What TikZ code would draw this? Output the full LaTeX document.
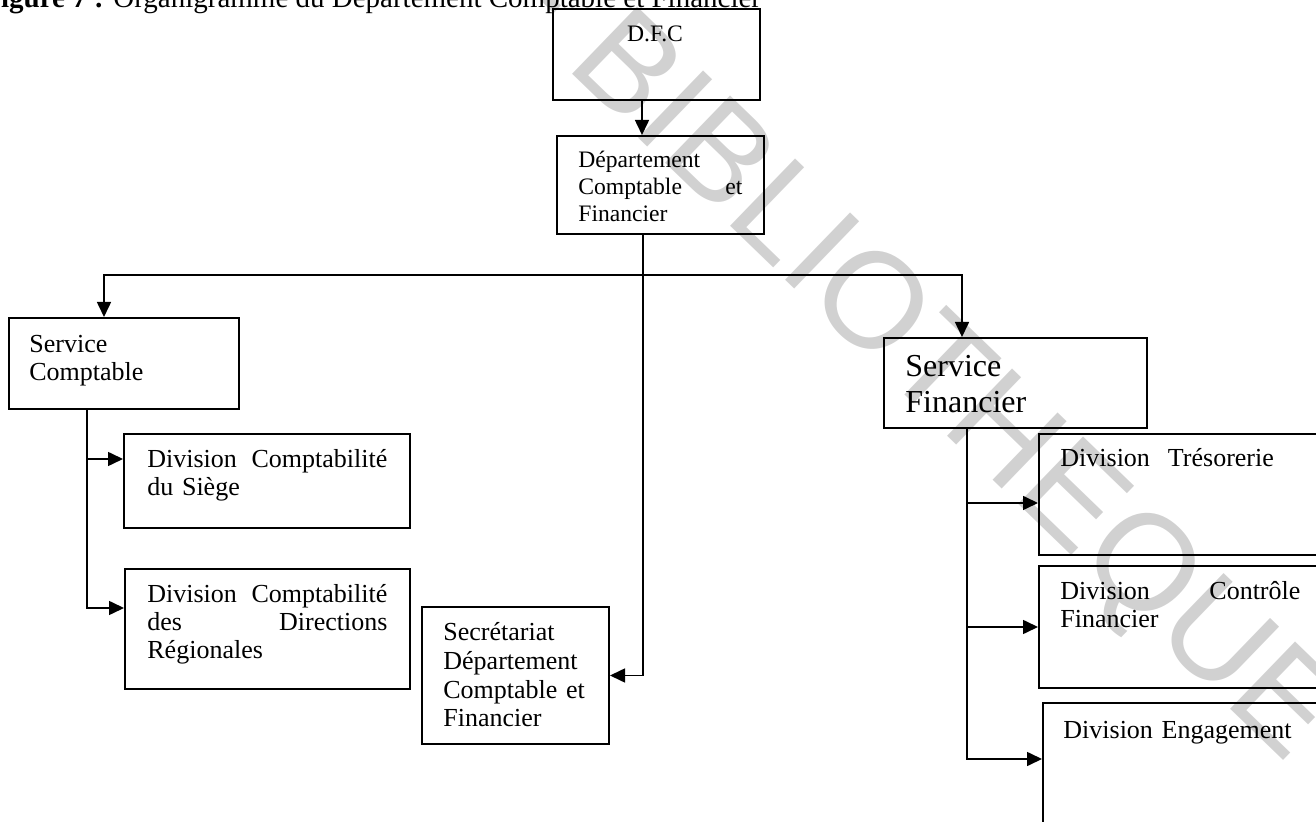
\documentclass[tikz,border=0pt]{standalone}
\usepackage{fontspec}
\setmainfont{Liberation Serif}
\newfontfamily\wmfont{Liberation Sans}
\usetikzlibrary{arrows.meta,calc}
\newcommand\jl[2]{\makebox[#1][s]{#2}}
\begin{document}
\begin{tikzpicture}[x=0.5pt,y=-0.5pt,
  box/.style={draw,line width=1pt,inner sep=0,anchor=north west},
  txt/.style={inner sep=0,anchor=base west,align=left,text width=125pt,font=\fontsize{13}{14}\selectfont},
  arr/.style={line width=0.8pt,-{Triangle[length=7.5pt,width=7pt]}},
  ln/.style={line width=0.8pt}]
\useasboundingbox (0,0) rectangle (1316,822);
\clip (0,0) rectangle (1316,822);
% watermark
\node[inner sep=0,anchor=east,rotate=-44,text=black!18,font=\wmfont\fontsize{68}{70}\selectfont] (wm) at (1312,740) {CODESRIA - BIBLIOTHEQUE};
% header
\node[inner sep=0,anchor=base west,font=\fontsize{14.5}{16}\selectfont] (title) at (-17,8) {\textbf{Figure 7 :} Organigramme du Département Comptable et Financier};
% boxes
\node[box,minimum width=103.5pt,minimum height=45.5pt] (dfc) at (552,8) {};
\node[box,minimum width=103.5pt,minimum height=49pt] (dept) at (556,135) {};
\node[box,minimum width=115pt,minimum height=45.5pt] (sc) at (8,317) {};
\node[box,minimum width=143pt,minimum height=47pt] (siege) at (123,433) {};
\node[box,minimum width=142.5pt,minimum height=60pt] (dcdr) at (124,568) {};
\node[box,minimum width=93.5pt,minimum height=68.5pt] (sec) at (421,606) {};
\node[box,minimum width=131.5pt,minimum height=45pt] (sf) at (883,337) {};
\node[box,minimum width=155pt,minimum height=60.5pt] (tres) at (1038,433) {};
\node[box,minimum width=155pt,minimum height=61pt] (ctrl) at (1038,565) {};
\node[box,minimum width=153pt,minimum height=80pt] (eng) at (1042,702) {};
% texts
\node[txt,anchor=base,align=center,text width=90pt,font=\fontsize{11.8}{13.5}\selectfont] (dfcT) at (655,42) {D.F.C};
\node[txt,text width=90pt,font=\fontsize{11.8}{13.5}\selectfont] (deptT) at (578,168) {Département\\\jl{82pt}{Comptable\hfill et}\\Financier};
\node[txt,text width=100pt] (scT) at (29,353) {Service\\Comptable};
\node[txt] (siegeT) at (147,468) {\jl{120pt}{Division\hfill Comptabilité}\\du Siège};
\node[txt] (dcdrT) at (147,603) {\jl{120pt}{Division\hfill Comptabilité}\\\jl{120pt}{des\hfill Directions}\\Régionales};
\node[txt,text width=90pt,font=\fontsize{13}{14.5}\selectfont] (secT) at (443,640) {Secrétariat\\Département\\Comptable et\\Financier};
\node[txt,font=\fontsize{16}{18}\selectfont] (sfT) at (905,377) {Service\\Financier};
\node[txt] (tresT) at (1060,467) {Division\hspace{9pt}Trésorerie};
\node[txt] (ctrlT) at (1060,600) {\jl{120pt}{Division\hfill Contrôle}\\Financier};
\node[txt] (engT) at (1063,738) {Division Engagement};
% connectors
\coordinate (a1) at ($(dfc.south west)+(90,0)$);
\draw[arr] (a1) -- (a1 |- dept.north);
\coordinate (d1) at ($(dept.south west)+(87,0)$);
\coordinate (j) at ($(dept.south west)+(87,40)$);
\draw[arr] (d1) |- (sec.east);
\draw[arr] (j) -| ($(sc.north west)+(96,0)$);
\draw[arr] (j) -| ($(sf.north west)+(79,0)$);
\coordinate (s1) at ($(sc.south west)+(79,0)$);
\draw[arr] (s1) |- ($(siege.north west)+(0,26)$);
\draw[arr] (s1) |- ($(dcdr.north west)+(0,40)$);
\coordinate (f1) at ($(sf.south west)+(84,0)$);
\draw[arr] (f1) |- ($(tres.north west)+(0,70)$);
\draw[arr] (f1) |- ($(ctrl.north west)+(0,62)$);
\draw[arr] (f1) |- ($(eng.north west)+(0,57)$);
\end{tikzpicture}
\end{document}
